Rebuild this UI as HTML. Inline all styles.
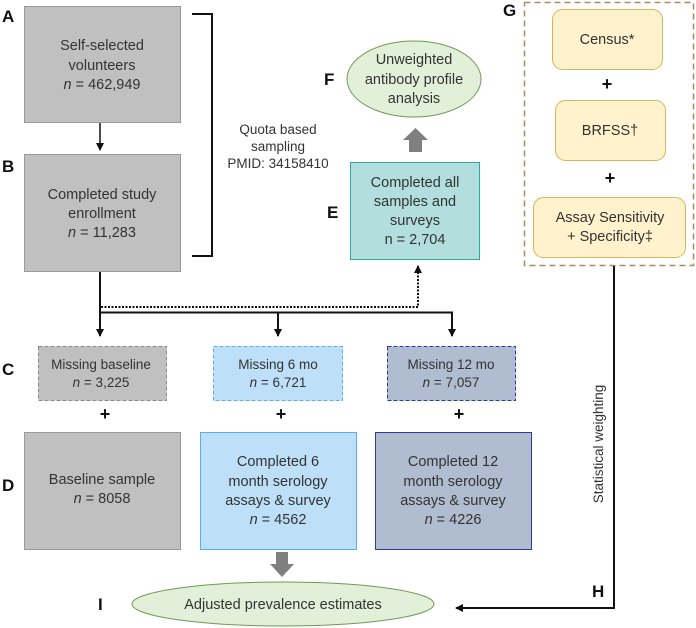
<!DOCTYPE html>
<html><head><meta charset="utf-8"><style>
html,body{margin:0;padding:0;background:#fff}
svg{display:block}
text{font-family:"Liberation Sans",Arial,sans-serif;fill:#333}
.L{font-weight:bold;fill:#111;font-size:17px}
.t{font-size:14.5px;text-anchor:middle}
.s{font-size:13.5px;text-anchor:middle}
.p{font-weight:bold;font-size:18px;text-anchor:middle;fill:#111}
</style></head><body>
<svg width="696" height="628" viewBox="0 0 696 628" xmlns="http://www.w3.org/2000/svg">
<defs>
<marker id="ah" markerWidth="8" markerHeight="8" refX="7" refY="4" orient="auto" markerUnits="userSpaceOnUse">
<path d="M0,0 L8,4 L0,8 Z" fill="#111"/></marker>
</defs>
<!-- A -->
<rect x="24.5" y="6.5" width="156" height="116" fill="#c0c0c0" stroke="#999"/>
<text class="L" x="2" y="22">A</text>
<text class="t" x="102" y="50">Self-selected</text>
<text class="t" x="102" y="70">volunteers</text>
<text class="t" x="102" y="89"><tspan font-style="italic">n</tspan> = 462,949</text>
<line x1="100" y1="123" x2="100" y2="150" stroke="#111" stroke-width="1.5" marker-end="url(#ah)"/>
<!-- B -->
<rect x="24.5" y="154.5" width="156" height="117" fill="#c0c0c0" stroke="#999"/>
<text class="L" x="2" y="172">B</text>
<text class="t" x="102" y="199">Completed study</text>
<text class="t" x="102" y="218">enrollment</text>
<text class="t" x="102" y="237"><tspan font-style="italic">n</tspan> = 11,283</text>
<!-- bracket -->
<path d="M192,14 H212 V256 H192" fill="none" stroke="#111" stroke-width="2"/>
<text class="s" x="278" y="134">Quota based</text>
<text class="s" x="278" y="151">sampling</text>
<text class="s" x="278" y="168">PMID: 34158410</text>
<!-- F -->
<ellipse cx="414" cy="79" rx="67" ry="38" fill="#e2efd9" stroke="#6f9a55"/>
<text class="L" x="324" y="85">F</text>
<text class="t" x="414" y="64">Unweighted</text>
<text class="t" x="414" y="84">antibody profile</text>
<text class="t" x="414" y="103">analysis</text>
<path d="M409,152 V140 H403 L415.5,128 L428,140 H422 V152 Z" fill="#7f7f7f"/>
<!-- E -->
<rect x="350.5" y="162.5" width="129" height="97" fill="#b3dede" stroke="#30a7a7"/>
<text class="L" x="327" y="218">E</text>
<text class="t" x="415" y="187">Completed all</text>
<text class="t" x="415" y="206">samples and</text>
<text class="t" x="415" y="225">surveys</text>
<text class="t" x="415" y="244">n = 2,704</text>
<!-- G -->
<rect x="524.5" y="2.5" width="169" height="263" fill="none" stroke="#a68f5e" stroke-width="1.5" stroke-dasharray="6,4"/>
<text class="L" x="503" y="16">G</text>
<rect x="552.5" y="9.5" width="110" height="60" rx="10" fill="#fff2cc" stroke="#d6b656"/>
<text class="t" x="607" y="44">Census*</text>
<text class="p" x="607" y="90">+</text>
<rect x="555.5" y="100.5" width="110" height="60" rx="10" fill="#fff2cc" stroke="#d6b656"/>
<text class="t" x="610" y="135">BRFSS†</text>
<text class="p" x="610" y="184">+</text>
<rect x="533.5" y="197.5" width="152" height="60" rx="10" fill="#fff2cc" stroke="#d6b656"/>
<text class="t" x="610" y="222">Assay Sensitivity</text>
<text class="t" x="610" y="241">+ Specificity‡</text>
<!-- H line -->
<path d="M614,266 V608 H456" fill="none" stroke="#111" stroke-width="2" marker-end="url(#ah)"/>
<text x="603" y="444" font-size="13.5" text-anchor="middle" transform="rotate(-90 603 444)">Statistical weighting</text>
<text class="L" x="592" y="597">H</text>
<!-- connectors -->
<line x1="100" y1="272" x2="100" y2="336" stroke="#111" stroke-width="2" marker-end="url(#ah)"/>
<path d="M100,312.5 H452 V336" fill="none" stroke="#111" stroke-width="2" marker-end="url(#ah)"/>
<line x1="278" y1="312" x2="278" y2="336" stroke="#111" stroke-width="2" marker-end="url(#ah)"/>
<path d="M101,307 H418 V266" fill="none" stroke="#111" stroke-width="2" stroke-dasharray="2,1.5" marker-end="url(#ah)"/>
<!-- C -->
<text class="L" x="2" y="375">C</text>
<rect x="38.5" y="346.5" width="128" height="54" fill="#c0c0c0" stroke="#8a8a8a" stroke-dasharray="4,2"/>
<text class="s" x="101" y="369">Missing baseline</text>
<text class="s" x="101" y="387"><tspan font-style="italic">n</tspan> = 3,225</text>
<rect x="213.5" y="346.5" width="129" height="54" fill="#bde0f8" stroke="#5aaef0" stroke-dasharray="4,2"/>
<text class="s" x="278" y="369">Missing 6 mo</text>
<text class="s" x="278" y="387"><tspan font-style="italic">n</tspan> = 6,721</text>
<rect x="387.5" y="346.5" width="128" height="54" fill="#b0bccf" stroke="#2e3a9a" stroke-dasharray="4,2"/>
<text class="s" x="451" y="369">Missing 12 mo</text>
<text class="s" x="451" y="387"><tspan font-style="italic">n</tspan> = 7,057</text>
<text class="p" x="105" y="420">+</text>
<text class="p" x="281" y="420">+</text>
<text class="p" x="459" y="420">+</text>
<!-- D -->
<text class="L" x="2" y="491">D</text>
<rect x="24.5" y="432.5" width="156" height="117" fill="#c0c0c0" stroke="#999"/>
<text class="t" x="102" y="484">Baseline sample</text>
<text class="t" x="102" y="503"><tspan font-style="italic">n</tspan> = 8058</text>
<rect x="200.5" y="432.5" width="156" height="117" fill="#bde0f8" stroke="#5aaef0"/>
<text class="t" x="278" y="466">Completed 6</text>
<text class="t" x="278" y="486">month serology</text>
<text class="t" x="278" y="505">assays &amp; survey</text>
<text class="t" x="278" y="524"><tspan font-style="italic">n</tspan> = 4562</text>
<rect x="375.5" y="432.5" width="156" height="117" fill="#b0bccf" stroke="#2e3a9a"/>
<text class="t" x="453" y="466">Completed 12</text>
<text class="t" x="453" y="486">month serology</text>
<text class="t" x="453" y="505">assays &amp; survey</text>
<text class="t" x="453" y="524"><tspan font-style="italic">n</tspan> = 4226</text>
<path d="M276,552 V564 H270 L282,577 L294,564 H288 V552 Z" fill="#7f7f7f"/>
<!-- I -->
<ellipse cx="283" cy="604" rx="151" ry="22" fill="#e2efd9" stroke="#6f9a55"/>
<text class="t" x="283" y="609">Adjusted prevalence estimates</text>
<text class="L" x="98" y="610">I</text>
</svg>
</body></html>
